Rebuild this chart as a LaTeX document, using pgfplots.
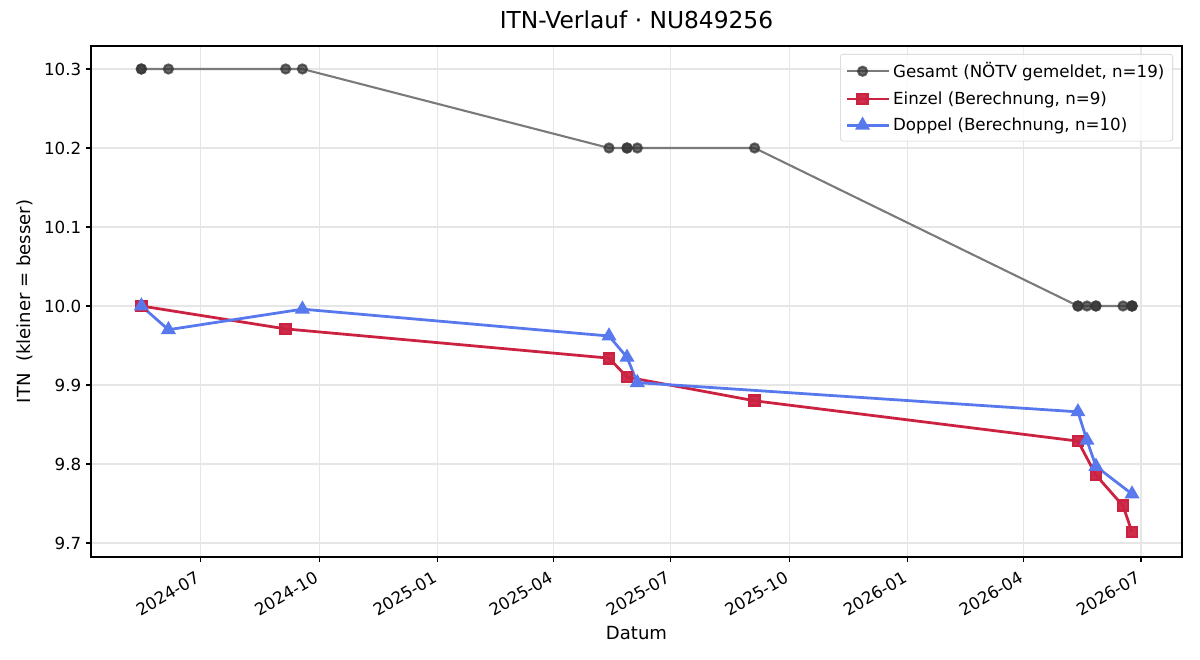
\documentclass[border=0pt]{standalone}
\usepackage{fontspec}
\setmainfont{DejaVu Sans}
\usepackage{pgfplots}
\pgfplotsset{compat=1.18}
\definecolor{gline}{RGB}{122,122,122}
\definecolor{gmark}{RGB}{55,55,55}
\definecolor{rline}{RGB}{204,34,66}
\definecolor{bline}{RGB}{88,120,238}
\definecolor{gridc}{RGB}{230,230,230}
\begin{document}
\begin{tikzpicture}
\useasboundingbox (-65.52pt,-74.16pt) rectangle (798.48pt,401.04pt);
\begin{axis}[
  scale only axis,
  width=785.52pt, height=367.92pt,
  at={(0,0)}, anchor=south west,
  xmin=96.9, xmax=943.8,
  ymin=9.6823, ymax=10.3291,
  xtick={182,274,366,456,547,639,731,821,912},
  xticklabels={2024-07,2024-10,2025-01,2025-04,2025-07,2025-10,2026-01,2026-04,2026-07},
  ytick={9.7,9.8,9.9,10.0,10.1,10.2,10.3},
  yticklabel style={/pgf/number format/fixed,/pgf/number format/fixed zerofill,/pgf/number format/precision=1},
  /pgf/number format/assume math mode=true,
  xticklabel style={xshift=-3.5pt, yshift=-3.5pt, rotate=30, anchor=north east, font=\fontsize{12}{14}\selectfont, inner sep=2pt},
  yticklabel style={font=\fontsize{12}{14}\selectfont},
  tick align=outside, major tick length=3.5pt,
  xtick pos=bottom, ytick pos=left,
  every tick/.style={black, line width=0.8pt},
  axis line style={line width=0.8pt},
  grid=major,
  major grid style={gridc, line width=0.8pt},
  title={ITN-Verlauf · NU849256},
  title style={at={(axis description cs:0.5,1.0352)}, anchor=center, font=\fontsize{16.8}{20}\selectfont},
  xlabel={Datum},
  xlabel style={at={(axis description cs:0.5,-0.1487)}, anchor=center, font=\fontsize{13}{15}\selectfont},
  ylabel={ITN\ \ (kleiner = besser)},
  ylabel style={at={(axis description cs:-0.0605,0.5)}, anchor=center, rotate=0, font=\fontsize{13}{15}\selectfont},
  legend style={at={(axis description cs:0.99175,0.98434)}, anchor=north east,
    font=\fontsize{12}{14}\selectfont, draw=black!20, rounded corners=2pt, fill=white, fill opacity=0.8, text opacity=1,
    row sep=4.4pt, inner xsep=4pt, inner ysep=4pt},
  legend cell align=left,
  legend image code/.code={\path (0pt,0pt) -- (30pt,0pt); \draw[mark repeat=2,mark phase=2,#1] plot coordinates {(0pt,0pt) (11pt,0pt) (22pt,0pt)};},
]
\addplot[gline, line width=1.5pt, mark=*, mark size=3.3pt, mark options={solid, draw=gmark, fill=gmark, fill opacity=0.75, draw opacity=0.75}] coordinates {
(136,10.3) (136,10.3) (157,10.3) (248,10.3) (261,10.3)
(499,10.2) (513,10.2) (513,10.2) (521,10.2) (612,10.2)
(863,10.0) (863,10.0) (870,10.0) (877,10.0) (877,10.0) (898,10.0) (905,10.0) (905,10.0) (905,10.0)
};
\addlegendentry{Gesamt (NÖTV gemeldet, n=19)}
\addplot[rline, line width=2pt, mark=square*, mark size=3.6pt, mark options={solid, fill=rline, fill opacity=0.95}] coordinates {
(136,10.0) (248,9.971) (499,9.934) (513,9.910) (612,9.880) (863,9.829) (877,9.786) (898,9.747) (905,9.714)
};
\addlegendentry{Einzel (Berechnung, n=9)}
\addplot[bline, line width=2pt, mark=triangle*, mark size=4.3pt, mark options={solid, fill=bline, fill opacity=0.95}] coordinates {
(136,10.0) (157,9.970) (261,9.996) (499,9.962) (513,9.935) (521,9.903) (863,9.866) (870,9.830) (877,9.797) (905,9.762)
};
\addlegendentry{Doppel (Berechnung, n=10)}
\end{axis}
\end{tikzpicture}
\end{document}
